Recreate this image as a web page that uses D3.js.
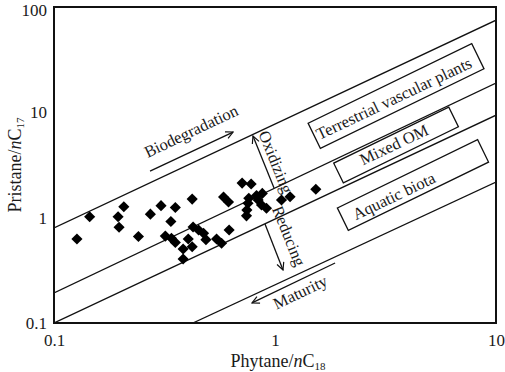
<!DOCTYPE html>
<html>
<head>
<meta charset="utf-8">
<script src="https://cdn.jsdelivr.net/npm/d3@7"></script>
<style>
  body { margin: 0; background: #fff; }
  text { font-family: "Liberation Serif", "Times New Roman", serif; fill: #1a1a1a; }
</style>
</head>
<body>
<svg width="505" height="372"></svg>
<script>
// samples: Phytane/nC18 vs Pristane/nC17
const phyNC18 = [0.127, 0.145, 0.195, 0.197, 0.207, 0.241, 0.273, 0.305, 0.354, 0.338,
  0.422, 0.319, 0.340, 0.354, 0.405, 0.384, 0.422, 0.384, 0.426, 0.451,
  0.475, 0.487, 0.544, 0.573, 0.620, 0.585, 0.616, 0.710, 0.780, 0.761,
  0.825, 0.876, 0.755, 0.746, 0.743, 0.839, 0.869, 0.915, 1.07, 1.17, 1.53]
const priNC17 = [0.627, 1.02, 1.02, 0.810, 1.27, 0.663, 1.08, 1.30, 1.25, 0.920,
  1.50, 0.668, 0.637, 0.581, 0.627, 0.504, 0.530, 0.405, 0.815, 0.764,
  0.711, 0.618, 0.627, 0.571, 0.764, 1.57, 1.41, 2.13, 2.09, 1.53,
  1.62, 1.70, 1.37, 1.18, 1.04, 1.47, 1.32, 1.23, 1.47, 1.58, 1.86]

// boundary lines (data coords)
const bndX1 = [0.1, 0.1, 0.1, 0.425]
const bndY1 = [0.8, 0.193, 0.1, 0.1]
const bndX2 = [10, 10, 10, 10]
const bndY2 = [75, 19, 9.4, 2.18]

const xTicks = [0.1, 1, 10]
const yTicks = [0.1, 1, 10, 100]
const tickText = ["0.1", "1", "10", "100"]

// source boxes
const boxNames = ["Terrestrial vascular plants", "Mixed OM", "Aquatic biota"]
const boxX = [3.53, 3.53, 4.21]
const boxY = [14.3, 4.9, 2.04]
const boxW = [182, 128, 156]
const boxH = [28, 22, 25]
const boxTextX = [3.45, 3.45, 3.45]
const boxTextY = [13.6, 4.95, 1.61]

const margin = {top: 7, left: 54}
const width = 442, height = 316

const xs = d3.scaleLog().domain([0.1, 10]).range([0, width])
const ys = d3.scaleLog().domain([0.1, 100]).range([height, 0])

const svg = d3.select("svg")
const g = svg.append("g")
  .attr("transform", "translate(" + margin.left + "," + margin.top + ")")

svg.append("defs").append("clipPath").attr("id", "clip")
  .append("rect").attr("width", width).attr("height", height)

const defs = svg.select("defs")
defs.append("marker").attr("id", "arr")
  .attr("viewBox", "0 0 10 10").attr("refX", 9).attr("refY", 5)
  .attr("markerWidth", 9).attr("markerHeight", 9)
  .attr("markerUnits", "userSpaceOnUse")
  .attr("orient", "auto")
  .append("path").attr("d", "M1,1 L9,5 L1,9")
  .attr("fill", "none").attr("stroke", "#111").attr("stroke-width", 1.3)

// angle of the 1:1 lines on screen
const ang = Math.atan((ys(1) - ys(10)) / (xs(10) - xs(1))) * 180 / Math.PI

g.append("g").attr("clip-path", "url(#clip)")
  .selectAll("line").data(d3.range(bndX1.length)).enter().append("line")
  .attr("x1", i => xs(bndX1[i])).attr("y1", i => ys(bndY1[i]))
  .attr("x2", i => xs(bndX2[i])).attr("y2", i => ys(bndY2[i]))
  .attr("stroke", "#111").attr("stroke-width", 1.3)

// boxes
g.selectAll(".box").data(d3.range(boxNames.length)).enter().append("rect")
  .attr("class", "box")
  .attr("x", i => -boxW[i] / 2).attr("y", i => -boxH[i] / 2)
  .attr("width", i => boxW[i]).attr("height", i => boxH[i])
  .attr("transform", i => "translate(" + xs(boxX[i]) + "," + ys(boxY[i]) + ") rotate(" + (-ang - 0.5) + ")")
  .attr("fill", "none").attr("stroke", "#111").attr("stroke-width", 1.3)

g.selectAll(".boxt").data(d3.range(boxNames.length)).enter().append("text")
  .attr("class", "boxt")
  .attr("transform", i => "translate(" + xs(boxTextX[i]) + "," + ys(boxTextY[i]) + ") rotate(" + (-ang) + ")")
  .attr("text-anchor", "middle").attr("dy", "0.35em")
  .style("font-size", "16.5px")
  .text(i => boxNames[i])

// annotations with arrows
const notes = [
  {t: "Biodegradation", x: 0.417, y: 6.65, r: -ang, a: [0.272, 2.77, 0.646, 6.5]},
  {t: "Maturity", x: 1.30, y: 0.197, r: -ang, a: [1.87, 0.371, 0.787, 0.155]},
  {t: "Oxidizing", x: 1.01, y: 3.38, r: 68, a: [0.99, 1.91, 0.795, 5.96]},
  {t: "Reducing", x: 1.157, y: 0.67, r: 68, a: [0.901, 0.871, 1.087, 0.319]}
]
notes.forEach(n => {
  g.append("text")
    .attr("transform", "translate(" + xs(n.x) + "," + ys(n.y) + ") rotate(" + n.r + ")")
    .attr("text-anchor", "middle").attr("dy", "0.35em")
    .style("font-size", "16.5px")
    .text(n.t)
  g.append("line")
    .attr("x1", xs(n.a[0])).attr("y1", ys(n.a[1]))
    .attr("x2", xs(n.a[2])).attr("y2", ys(n.a[3]))
    .attr("stroke", "#111").attr("stroke-width", 1.3)
    .attr("marker-end", "url(#arr)")
})

// points
g.selectAll(".pt").data(d3.range(phyNC18.length)).enter().append("path")
  .attr("class", "pt")
  .attr("d", d3.symbol(d3.symbolSquare, 62))
  .attr("transform", i => "translate(" + xs(phyNC18[i]) + "," + ys(priNC17[i]) + ") rotate(45)")
  .attr("fill", "#000")

// frame
g.append("rect").attr("width", width).attr("height", height)
  .attr("fill", "none").attr("stroke", "#111").attr("stroke-width", 2)

// axes
const xAxis = d3.axisBottom(xs).tickValues(xTicks).tickSize(0)
  .tickFormat((d, i) => tickText[i])
const yAxis = d3.axisLeft(ys).tickValues(yTicks).tickSize(0)
  .tickFormat((d, i) => tickText[i])

const xa = g.append("g").attr("transform", "translate(0," + height + ")").call(xAxis)
xa.select(".domain").remove()
xa.selectAll("text").attr("dy", null).attr("y", 23).style("font-size", "17px")
  .attr("font-family", null)

const ya = g.append("g").call(yAxis)
ya.select(".domain").remove()
ya.selectAll("text").attr("x", -7).style("font-size", "17px").attr("font-family", null)
  .attr("y", d => d === 100 ? 3 : 0)

// titles
const xt = svg.append("text").attr("x", 278).attr("y", 367)
  .attr("text-anchor", "middle").style("font-size", "18px")
xt.append("tspan").text("Phytane/")
xt.append("tspan").style("font-style", "italic").text("n")
xt.append("tspan").text("C")
xt.append("tspan").attr("dy", 3).style("font-size", "11px").text("18")

const yt = svg.append("text")
  .attr("transform", "translate(21," + (margin.top + height / 2) + ") rotate(-90)")
  .attr("text-anchor", "middle").style("font-size", "18px")
yt.append("tspan").text("Pristane/")
yt.append("tspan").style("font-style", "italic").text("n")
yt.append("tspan").text("C")
yt.append("tspan").attr("dy", 3).style("font-size", "11px").text("17")
</script>
</body>
</html>
